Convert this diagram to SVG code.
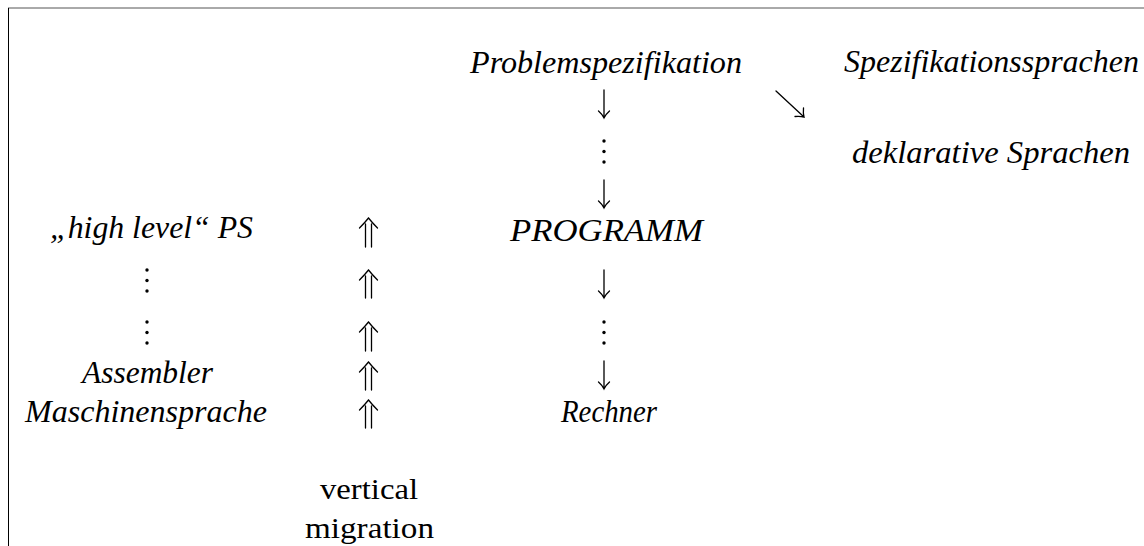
<svg xmlns="http://www.w3.org/2000/svg" width="1144" height="546" viewBox="0 0 1144 546">
<style>
.it{font-family:"Liberation Serif","Times New Roman",serif;font-style:italic;font-size:31px;fill:#000}
.rm{font-family:"Liberation Serif","Times New Roman",serif;font-size:30px;fill:#000}
.ar{fill:none;stroke:#000;stroke-width:1.3;stroke-linecap:round}
.dot{fill:#000}
</style>
<rect width="1144" height="546" fill="#fff"/>
<g id="frame">
<line x1="8" y1="8" x2="1144" y2="8" stroke="#555" stroke-width="1"/>
<line x1="8.5" y1="8" x2="8.5" y2="546" stroke="#000" stroke-width="1"/>
</g>
<g id="n-problem"><text class="it" x="470" y="73" textLength="272" lengthAdjust="spacingAndGlyphs">Problemspezifikation</text></g>
<g id="n-spez"><text class="it" x="844" y="72" textLength="295" lengthAdjust="spacingAndGlyphs">Spezifikationssprachen</text></g>
<g id="n-dekl"><text class="it" x="852" y="163" textLength="278" lengthAdjust="spacingAndGlyphs">deklarative Sprachen</text></g>
<g id="n-programm"><text class="it" x="510" y="241" textLength="193" lengthAdjust="spacingAndGlyphs">PROGRAMM</text></g>
<g id="n-highlevel"><text class="it" x="50" y="238" textLength="203" lengthAdjust="spacingAndGlyphs">„high level“ PS</text></g>
<g id="n-assembler"><text class="it" x="82" y="383" textLength="131" lengthAdjust="spacingAndGlyphs">Assembler</text></g>
<g id="n-maschine"><text class="it" x="25" y="422" textLength="242" lengthAdjust="spacingAndGlyphs">Maschinensprache</text></g>
<g id="n-rechner"><text class="it" x="561" y="422" textLength="96" lengthAdjust="spacingAndGlyphs">Rechner</text></g>
<g id="n-vertical"><text class="rm" x="320" y="499" textLength="98" lengthAdjust="spacingAndGlyphs">vertical</text><text class="rm" x="305" y="538" textLength="129" lengthAdjust="spacingAndGlyphs">migration</text></g>
<g id="dots">
<circle class="dot" cx="604" cy="141" r="1.7"/><circle class="dot" cx="604" cy="151.5" r="1.7"/><circle class="dot" cx="604" cy="162" r="1.7"/>
<circle class="dot" cx="604" cy="322" r="1.7"/><circle class="dot" cx="604" cy="332.5" r="1.7"/><circle class="dot" cx="604" cy="343" r="1.7"/>
<circle class="dot" cx="147" cy="270" r="1.7"/><circle class="dot" cx="147" cy="280.5" r="1.7"/><circle class="dot" cx="147" cy="291" r="1.7"/>
<circle class="dot" cx="147" cy="322" r="1.7"/><circle class="dot" cx="147" cy="332.5" r="1.7"/><circle class="dot" cx="147" cy="343" r="1.7"/>
</g>
<g id="connectors">
<path class="ar" d="M604,90V118M598.5,111Q602,114 604,118Q606,114 609.5,111"/>
<path class="ar" d="M604,180V208M598.5,201Q602,204 604,208Q606,204 609.5,201"/>
<path class="ar" d="M604,270V298M598.5,291Q602,294 604,298Q606,294 609.5,291"/>
<path class="ar" d="M604,361V389M598.5,382Q602,385 604,389Q606,385 609.5,382"/>
<path class="ar" d="M776,91L804,117M795,116.5Q800,116 804,117Q803,113 803.5,108"/>
<path class="ar" d="M365.5,224V247M371.5,224V247M359.5,228Q364.5,223 368.5,218Q372.5,223 377.5,228"/>
<path class="ar" d="M365.5,276V298M371.5,276V298M359.5,280Q364.5,275 368.5,270Q372.5,275 377.5,280"/>
<path class="ar" d="M365.5,328V351M371.5,328V351M359.5,332Q364.5,327 368.5,322Q372.5,327 377.5,332"/>
<path class="ar" d="M365.5,368V390M371.5,368V390M359.5,372Q364.5,367 368.5,362Q372.5,367 377.5,372"/>
<path class="ar" d="M365.5,406V428M371.5,406V428M359.5,410Q364.5,405 368.5,400Q372.5,405 377.5,410"/>
</g>
</svg>
